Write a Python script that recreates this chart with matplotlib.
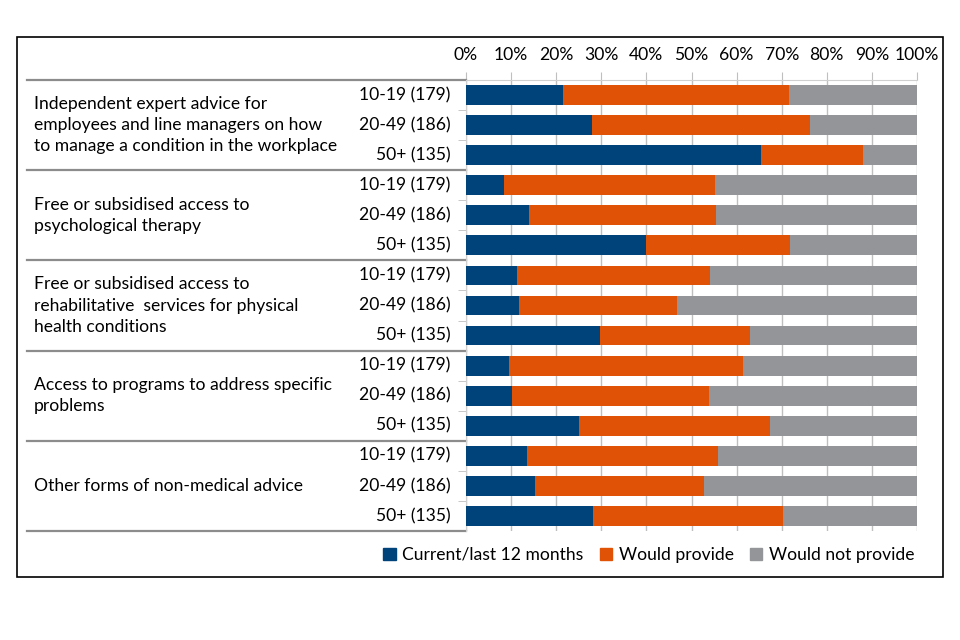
import matplotlib
matplotlib.use("Agg")
import matplotlib.pyplot as plt
from matplotlib.lines import Line2D
from matplotlib.patches import Rectangle
import numpy as np

groups = [
    "Independent expert advice for\nemployees and line managers on how\nto manage a condition in the workplace",
    "Free or subsidised access to\npsychological therapy",
    "Free or subsidised access to\nrehabilitative  services for physical\nhealth conditions",
    "Access to programs to address specific\nproblems",
    "Other forms of non-medical advice",
]
sizes = ["10-19 (179)", "20-49 (186)", "50+ (135)"]
series = ["Current/last 12 months", "Would provide", "Would not provide"]

current = [21.4, 28.0, 65.3, 8.5, 14.0, 40.0, 11.2, 11.8, 29.8, 9.5, 10.3, 25.1, 13.5, 15.2, 28.2]
would = [50.2, 48.3, 22.8, 46.8, 41.5, 31.9, 43.0, 34.9, 33.2, 52.0, 43.5, 42.2, 42.4, 37.6, 42.1]
would_not = [28.4, 23.7, 11.9, 44.7, 44.5, 28.1, 45.8, 53.3, 37.0, 38.5, 46.2, 32.7, 44.1, 47.2, 29.7]

colors = ["#00427A", "#E05206", "#939598"]

plt.rcParams['font.family'] = ['Lato', 'DejaVu Sans']
FS = 12.6

W, H = 960, 640
fig = plt.figure(figsize=(9.6, 6.4), dpi=100)
fig.patch.set_facecolor("white")

def fx(px):
    return px / W

def fy(py):
    return 1 - py / H

# outer frame
fig.patches.append(Rectangle((fx(17), fy(577)), fx(943) - fx(17), fy(37) - fy(577),
                             transform=fig.transFigure, fill=False, edgecolor="black", lw=1.2))

ax = fig.add_axes([fx(466), fy(531), fx(917) - fx(466), fy(80) - fy(531)])
n = len(current)
y = np.arange(n)
left = np.zeros(n)
for vals, c in zip([current, would, would_not], colors):
    ax.barh(y, vals, left=left, height=0.66, color=c, zorder=3)
    left = left + np.array(vals)

ax.set_xlim(0, 100)
ax.set_ylim(n - 0.5, -0.5)
ax.set_xticks(np.arange(0, 101, 10))
ax.set_xticklabels([f"{v}%" for v in range(0, 101, 10)], fontsize=FS)
ax.xaxis.tick_top()
ax.tick_params(axis='x', length=6, color="#BFBFBF", pad=6)
ax.grid(axis='x', color="#BFBFBF", lw=1, zorder=0)
ax.set_yticks([])
ax.set_yticks([0.5, 1.5, 3.5, 4.5, 6.5, 7.5, 9.5, 10.5, 12.5, 13.5], minor=True)
ax.tick_params(axis='y', which='minor', length=6, color="#BFBFBF")
for s in ["right", "bottom"]:
    ax.spines[s].set_visible(False)
ax.spines["top"].set_color("#D0D0D0")
ax.spines["left"].set_color("#D0D0D0")

# size labels
for i in range(n):
    ax.text(-0.035, i, sizes[i % 3], transform=ax.get_yaxis_transform(),
            ha='right', va='center', fontsize=FS)

# group labels and separators
trans = matplotlib.transforms.blended_transform_factory(fig.transFigure, ax.transData)
for g, label in enumerate(groups):
    ax.text(fx(34), 3 * g + 1, label, transform=trans, ha='left', va='center',
            fontsize=FS, linespacing=1.4)
for b in [-0.5, 2.5, 5.5, 8.5, 11.5, 14.5]:
    ax.add_line(Line2D([fx(27), fx(466)], [b, b], transform=trans, color="#8C8C8C",
                       lw=1.6, clip_on=False))

handles = [Rectangle((0, 0), 1, 1, color=c) for c in colors]
fig.legend(handles, series, loc='center right', bbox_to_anchor=(fx(930), fy(555)),
           ncol=3, frameon=False, fontsize=FS, handlelength=0.7, handleheight=0.7,
           handletextpad=0.4, columnspacing=0.9)

fig.savefig("out.png", dpi=100)
